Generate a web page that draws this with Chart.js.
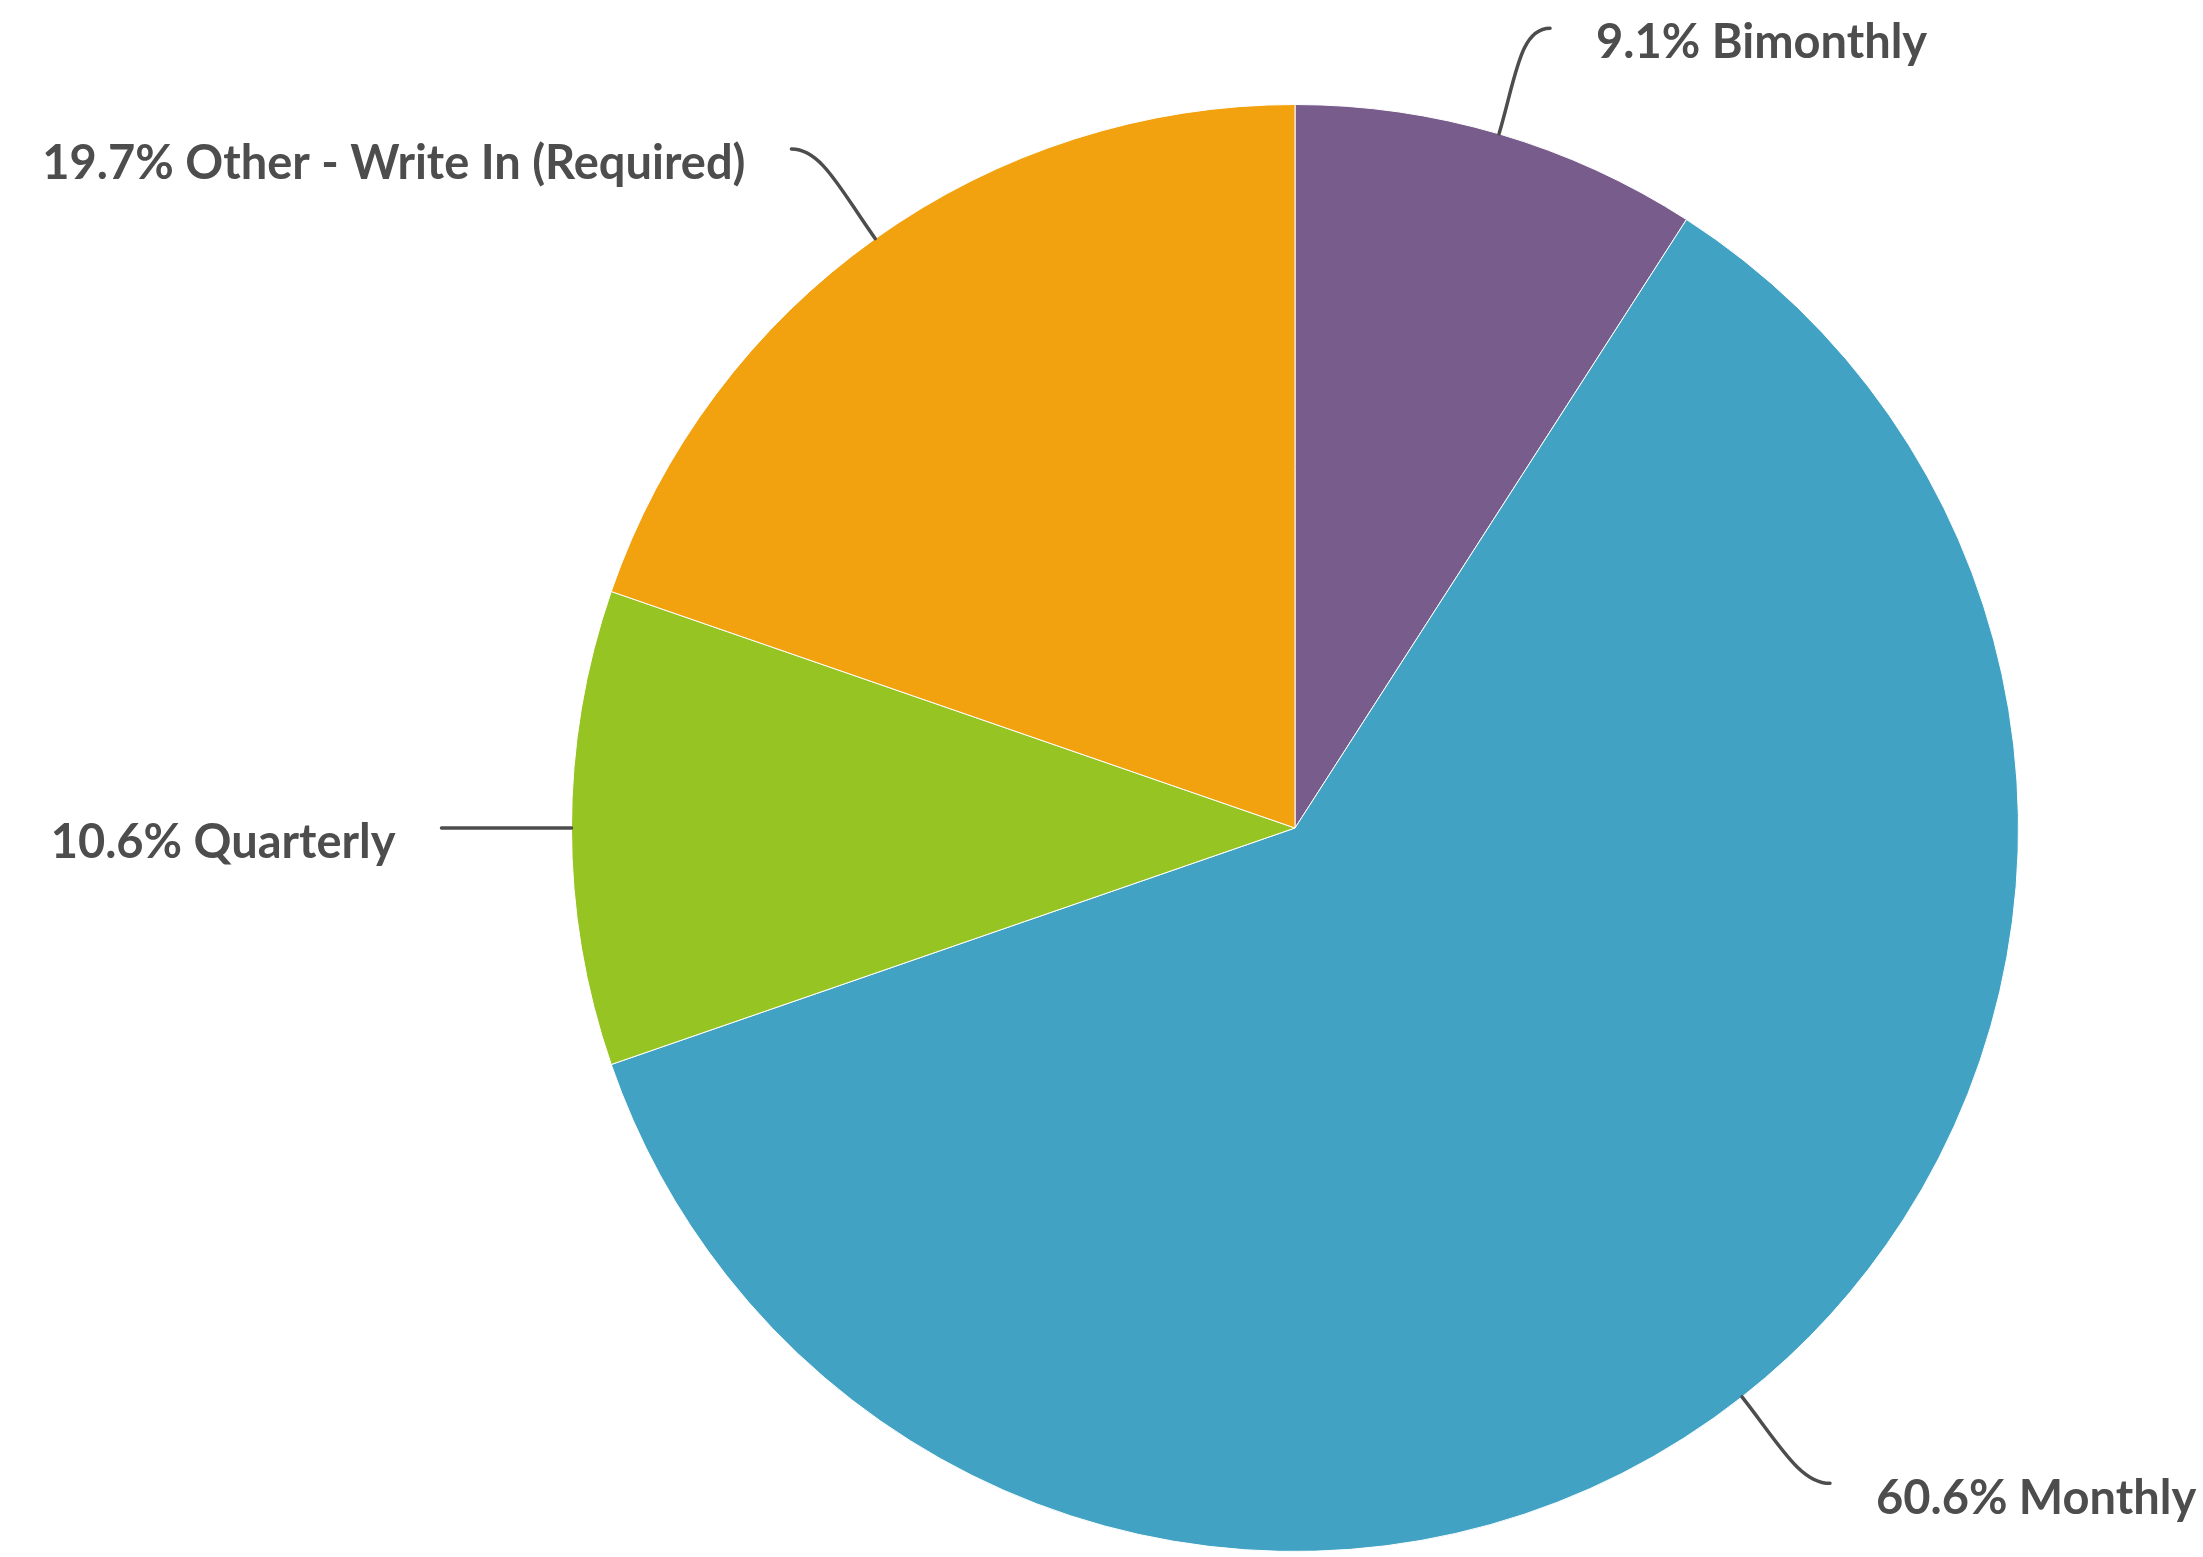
<!DOCTYPE html>
<html>
<head>
<meta charset="utf-8">
<script src="https://cdn.jsdelivr.net/npm/chart.js@4.4.1/dist/chart.umd.min.js"></script>
<style>
html,body{margin:0;padding:0;background:#fff;}
#wrap{width:2203px;height:1557px;position:relative;}
</style>
</head>
<body>
<div id="wrap"><canvas id="c" width="2203" height="1557"></canvas></div>
<script>
const categories = ['Bimonthly', 'Monthly', 'Quarterly', 'Other - Write In (Required)'];
const percentValues = [9.1, 60.6, 10.6, 19.7];
const sliceColors = ['#785C8B', '#42A2C3', '#96C423', '#F2A20E'];

const labelFont = 'bold 47px Lato, "Open Sans", sans-serif';
const labelColor = '#4D4D4D';

const leaderPlugin = {
  id: 'leaders',
  afterDatasetsDraw(chart) {
    const ctx = chart.ctx;
    const meta = chart.getDatasetMeta(0);
    ctx.save();
    ctx.font = labelFont;
    ctx.fillStyle = labelColor;
    ctx.strokeStyle = '#4D4D4D';
    ctx.lineWidth = 3.5;
    ctx.lineCap = 'round';
    meta.data.forEach((arc, i) => {
      const p = arc.getProps(['x','y','startAngle','endAngle','outerRadius'], true);
      const mid = (p.startAngle + p.endAngle) / 2;
      const dx = Math.cos(mid), dy = Math.sin(mid);
      const sx = p.x + dx * p.outerRadius, sy = p.y + dy * p.outerRadius;
      const side = dx >= 0 ? 1 : -1;
      const len = 110, extra = 20;
      const ex = sx + dx * len + side * extra, ey = sy + dy * len;
      ctx.beginPath();
      ctx.moveTo(sx, sy);
      if (Math.abs(dy) < 0.05) {
        ctx.lineTo(ex, ey);
      } else {
        ctx.bezierCurveTo(sx + dx * len * 0.55, sy + dy * len * 0.55,
                          ex - side * 30, ey, ex, ey);
      }
      ctx.stroke();
      const txt = percentValues[i].toFixed(1) + '% ' + categories[i];
      ctx.textBaseline = 'middle';
      ctx.textAlign = side > 0 ? 'left' : 'right';
      ctx.fillText(txt, ex + side * 46, ey + 15);
    });
    ctx.restore();
  }
};

new Chart(document.getElementById('c'), {
  type: 'pie',
  data: {
    labels: categories,
    datasets: [{
      data: percentValues,
      backgroundColor: sliceColors,
      borderColor: '#ffffff',
      borderWidth: 1
    }]
  },
  options: {
    responsive: false,
    animation: false,
    devicePixelRatio: 1,
    layout: { padding: { left: 571, right: 184, top: 104, bottom: 5 } },
    plugins: { legend: { display: false }, tooltip: { enabled: false } }
  },
  plugins: [leaderPlugin]
});
</script>
</body>
</html>
